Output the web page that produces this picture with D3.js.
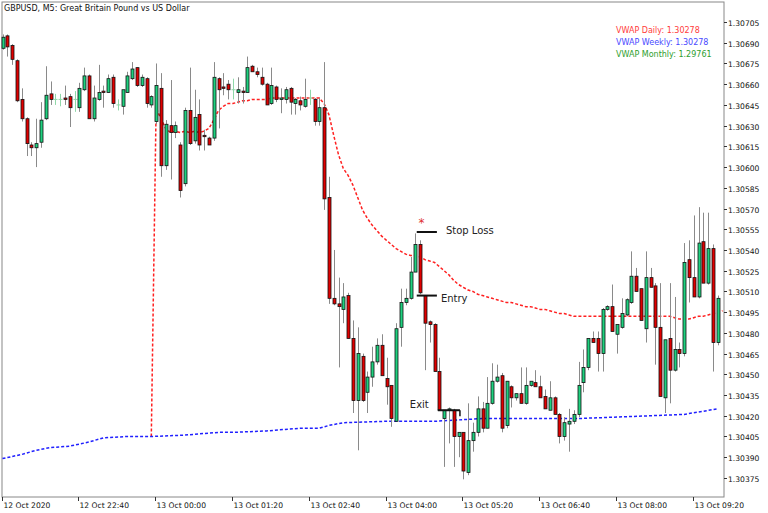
<!DOCTYPE html>
<html><head><meta charset="utf-8">
<script src="https://cdn.jsdelivr.net/npm/d3@7"></script>
<style>body{margin:0;background:#fff}svg{display:block}text{font-family:"DejaVu Sans",sans-serif}</style>
</head><body><svg id="c" width="768" height="513"></svg>
<script>
const title = "GBPUSD, M5:  Great Britain Pound vs US Dollar";
const open  = [130686,130695,130688,130677,130649,130635,130616,130614,130618,130635,130653,130649,130649,130650,130651,130649,130643,130656,130666,130635,130649,130655,130654,130665,130645,130644,130654,130664,130672,130659,130664,130645,130633,130657,130601,130630,130625,130616,130588,130641,130619,130638,130623,130621,130621,130664,130658,130660,130656,130654,130655,130654,130673,130669,130665,130660,130646,130658,130649,130649,130657,130646,130648,130644,130650,130649,130633,130643,130578,130505,130501,130497,130507,130476,130431,130463,130437,130448,130459,130471,130447,130442,130416,130484,130502,130505,130524,130544,130507,130488,130486,130452,130418,130424,130424,130405,130408,130379,130402,130408,130425,130411,130429,130445,130449,130413,130441,130433,130436,130429,130442,130444,130441,130434,130424,130433,130421,130405,130414,130416,130421,130444,130455,130476,130476,130465,130497,130499,130479,130484,130493,130502,130521,130512,130483,130520,130514,130484,130433,130476,130453,130468,130465,130533,130520,130506,130546,130516,130541,130473];
const high  = [130696,130696,130689,130678,130657,130636,130618,130635,130647,130673,130662,130653,130653,130659,130653,130655,130661,130672,130667,130659,130674,130659,130667,130667,130649,130646,130669,130676,130672,130667,130665,130652,130675,130668,130634,130663,130633,130618,130643,130672,130656,130649,130627,130622,130676,130665,130668,130663,130664,130665,130658,130680,130674,130672,130672,130661,130672,130659,130657,130658,130658,130650,130651,130664,130656,130650,130650,130676,130593,130540,130520,130516,130509,130489,130484,130465,130452,130470,130476,130479,130462,130442,130487,130512,130512,130535,130552,130547,130507,130489,130487,130462,130424,130426,130425,130408,130408,130429,130415,130434,130430,130448,130458,130457,130451,130445,130442,130436,130455,130455,130445,130453,130449,130439,130445,130434,130422,130419,130425,130424,130459,130468,130476,130481,130481,130498,130500,130515,130486,130505,130505,130539,130527,130512,130539,130527,130516,130516,130475,130516,130506,130473,130545,130547,130565,130571,130567,130567,130544,130507];
const low   = [130685,130680,130674,130647,130633,130608,130608,130600,130614,130634,130645,130645,130644,130645,130629,130640,130640,130655,130635,130633,130648,130643,130654,130643,130641,130638,130654,130663,130658,130658,130643,130643,130631,130593,130598,130591,130621,130578,130586,130616,130617,130612,130612,130616,130619,130628,130652,130649,130649,130646,130646,130654,130669,130665,130659,130645,130645,130647,130639,130646,130638,130638,130641,130643,130645,130630,130630,130569,130501,130500,130455,130487,130476,130422,130395,130430,130422,130441,130457,130449,130428,130412,130416,130470,130500,130504,130524,130508,130453,130473,130452,130424,130383,130400,130383,130390,130374,130377,130394,130405,130408,130411,130428,130444,130408,130411,130426,130431,130429,130428,130441,130441,130433,130425,130424,130421,130400,130402,130394,130414,130419,130437,130453,130473,130452,130452,130496,130481,130465,130483,130492,130501,130510,130489,130473,130513,130457,130434,130422,130429,130452,130455,130463,130502,130506,130505,130516,130515,130452,130471];
const close = [130694,130687,130678,130648,130635,130617,130614,130617,130634,130652,130649,130649,130649,130649,130643,130649,130657,130666,130635,130650,130654,130654,130664,130646,130645,130656,130666,130671,130659,130665,130646,130651,130659,130601,130631,130625,130630,130583,130641,130617,130636,130616,130622,130616,130665,130656,130657,130656,130656,130656,130654,130672,130669,130667,130660,130645,130659,130649,130650,130656,130647,130649,130645,130649,130650,130633,130643,130577,130505,130501,130499,130506,130476,130431,130465,130431,130448,130459,130471,130449,130441,130418,130483,130502,130505,130524,130544,130509,130487,130486,130452,130424,130424,130425,130405,130408,130380,130402,130408,130425,130411,130429,130445,130448,130411,130445,130433,130436,130429,130442,130445,130441,130433,130425,130433,130421,130405,130415,130416,130421,130442,130455,130476,130473,130465,130497,130499,130481,130486,130494,130504,130521,130510,130489,130520,130513,130484,130434,130475,130453,130468,130465,130531,130520,130506,130545,130516,130541,130473,130505];
const dailyStart = 31;
const vwapDaily = [130405,130643,130635,130628,130625,130626,130625,130626,130625,130626,130625,130626,130628,130634,130641,130644,130646,130646,130647,130648,130648,130649,130649,130649,130649,130650,130650,130650,130650,130650,130650,130650,130650,130650,130650,130650,130646,130638,130623,130609,130599,130594,130587,130578,130569,130563,130558,130554,130550,130547,130544,130541,130539,130537,130536,130536,130535,130533,130532,130531,130528,130525,130522,130518,130515,130513,130511,130510,130508,130507,130506,130505,130504,130503,130502,130502,130501,130500,130499,130499,130498,130497,130497,130496,130495,130494,130494,130493,130492,130492,130492,130492,130492,130492,130492,130492,130492,130492,130492,130492,130492,130492,130492,130492,130492,130492,130492,130492,130492,130491,130490,130490,130490,130491,130492,130492,130493,130494,130495,130496];
const weeklyIdx = [0,4,7,10,14,18,21,26,31,38,45,48,55,62,66,68,71,80,90,100,120,135,142,149];
const weeklyVal = [130389,130392,130395,130397,130398,130401,130404,130405,130405,130406,130408,130408,130409,130411,130411,130413,130415,130416,130416,130418,130418,130420,130421,130425];
const yTicks = [1.30705,1.30690,1.30675,1.30660,1.30645,1.30630,1.30615,1.30600,1.30585,1.30570,1.30555,1.30540,1.30525,1.30510,1.30495,1.30480,1.30465,1.30450,1.30435,1.30420,1.30405,1.30390,1.30375];
const xTickIdx = [0,16,32,48,64,80,96,112,128,144];
const xTickLabels = ["12 Oct 2020","12 Oct 22:40","13 Oct 00:00","13 Oct 01:20","13 Oct 02:40","13 Oct 04:00","13 Oct 05:20","13 Oct 06:40","13 Oct 08:00","13 Oct 09:20"];
const legend = [["VWAP Daily: 1.30278","#ff3b3b"],["VWAP Weekly: 1.30278","#4848ff"],["VWAP Monthly: 1.29761","#2e9e2e"]];
const stopLoss = {price:130553, i0:86.3, i1:90.5, label:"Stop Loss"};
const entry = {price:130507, i0:86.3, i1:90.5, label:"Entry"};
const exit = {price:130424, i0:90.7, i1:95.3, label:"Exit"};

const svg = d3.select("#c");
const L=2, R=724, T=2, B=497;
const x = d3.scaleLinear().domain([0,1]).range([2.5,7.3]);
const y = d3.scaleLinear().domain([130361.2,130719.5]).range([B,T]);

svg.append("rect").attr("x",L).attr("y",T).attr("width",R-L).attr("height",B-T).attr("fill","none").attr("stroke","#888").attr("stroke-width",1);

const ya = svg.append("g");
yTicks.forEach(t=>{const yy=Math.round(y(t*100000))+0.5;
 ya.append("line").attr("x1",R).attr("x2",R+3).attr("y1",yy).attr("y2",yy).attr("stroke","#333");
 ya.append("text").attr("x",R+4).attr("y",yy+3).attr("font-size",7.6).attr("fill","#111").text(t.toFixed(5));});
xTickIdx.forEach((t,k)=>{const xx=Math.round(x(t))-0.5;
 svg.append("line").attr("x1",xx).attr("x2",xx).attr("y1",B).attr("y2",B+4).attr("stroke","#333");
 svg.append("text").attr("x",xx+1).attr("y",B+11).attr("font-size",7.6).attr("fill","#111").text(xTickLabels[k]);});

svg.append("text").attr("x",4).attr("y",11).attr("font-size",8).attr("fill","#111").text(title);

const ld = d3.line().x(d=>x(d[0])).y(d=>y(d[1]));
svg.append("path").attr("d",ld(vwapDaily.map((v,k)=>[dailyStart+k,v]))).attr("fill","none").attr("stroke","#ff2020").attr("stroke-width",1.5).attr("stroke-dasharray","3,2");
svg.append("path").attr("d",ld(weeklyIdx.map((v,k)=>[v,weeklyVal[k]]))).attr("fill","none").attr("stroke","#2020ff").attr("stroke-width",1.5).attr("stroke-dasharray","3,2");

const g = svg.append("g");
open.forEach((o,i)=>{const c=close[i],cx=Math.round(x(i))+0.5;
 const doji = o===c;
 g.append("line").attr("x1",cx).attr("x2",cx).attr("y1",y(high[i])).attr("y2",y(low[i])).attr("stroke",doji?"#8fd8a8":"#8a8a8a").attr("stroke-width",1);
 if(doji){g.append("line").attr("x1",cx-2).attr("x2",cx+2).attr("y1",y(o)).attr("y2",y(o)).attr("stroke","#8fd8a8");}
 else{const t=y(Math.max(o,c)),b=y(Math.min(o,c));
  g.append("rect").attr("x",cx-1.5).attr("y",t).attr("width",3).attr("height",Math.max(1,b-t)).attr("fill",c>o?"#1fd17f":"#e00000").attr("stroke","#111").attr("stroke-width",0.8);}
});

[stopLoss,entry,exit].forEach(a=>{svg.append("line").attr("x1",x(a.i0)).attr("x2",x(a.i1)).attr("y1",y(a.price)).attr("y2",y(a.price)).attr("stroke","#111").attr("stroke-width",2);});
svg.append("line").attr("x1",x(exit.i1)).attr("x2",x(exit.i1)).attr("y1",y(exit.price)).attr("y2",y(exit.price)+6).attr("stroke","#111").attr("stroke-width",1.5);
svg.append("text").attr("x",x(stopLoss.i1)+9).attr("y",y(stopLoss.price)+2).attr("font-size",10).attr("fill","#222").text(stopLoss.label);
svg.append("text").attr("x",x(entry.i1)+4).attr("y",y(entry.price)+6).attr("font-size",10).attr("fill","#222").text(entry.label);
svg.append("text").attr("x",x(exit.i0)-28).attr("y",y(exit.price)-2).attr("font-size",10).attr("fill","#222").text(exit.label);
svg.append("text").attr("x",x(87.3)).attr("y",y(stopLoss.price)-5).attr("text-anchor","middle").attr("font-size",12).attr("fill","#e03030").text("*");

legend.forEach((l,k)=>svg.append("text").attr("x",616).attr("y",33+k*12).attr("font-size",8).attr("fill",l[1]).text(l[0]));
</script></body></html>
